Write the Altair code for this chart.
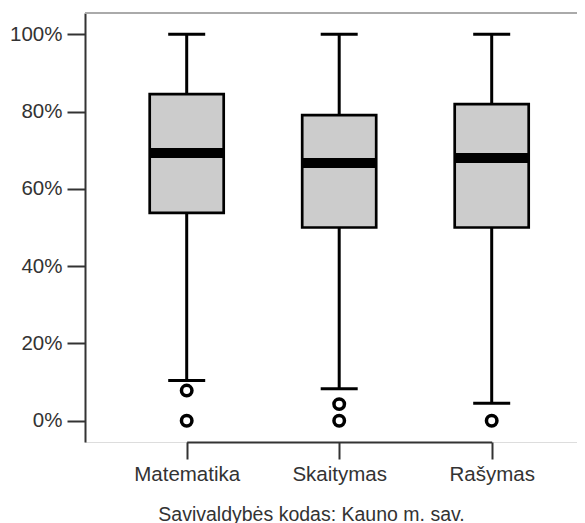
import altair as alt
import pandas as pd

subjects = ["Matematika", "Skaitymas", "Rašymas"]
whisker_low = [0.104, 0.083, 0.045]
q1 = [0.538, 0.500, 0.500]
median = [0.693, 0.667, 0.680]
q3 = [0.845, 0.791, 0.819]
whisker_high = [1.0, 1.0, 1.0]

outlier_subject = ["Matematika", "Matematika", "Skaitymas", "Skaitymas", "Rašymas"]
outlier_value = [0.078, 0.0, 0.043, 0.0, 0.0]

y_ticks = [0, 0.2, 0.4, 0.6, 0.8, 1.0]

stats = pd.DataFrame({
    "subject": subjects,
    "low": whisker_low,
    "q1": q1,
    "median": median,
    "q3": q3,
    "high": whisker_high,
})
outliers = pd.DataFrame({"subject": outlier_subject, "value": outlier_value})

FONT = "Liberation Sans"
TXT = "#333333"
W, H = 492, 429

x_enc = alt.X(
    "subject:N",
    sort=subjects,
    scale=alt.Scale(type="point", range=[101.7, 406.7], padding=0),
    axis=alt.Axis(
        title="Savivaldybės kodas: Kauno m. sav.",
        labelAngle=0,
        labelFont=FONT,
        labelFontSize=20.5,
        labelColor=TXT,
        labelPadding=5,
        tickSize=17,
        tickWidth=2,
        tickColor=TXT,
        domainColor=TXT,
        domainWidth=2,
        titleFont=FONT,
        titleFontSize=19.5,
        titleFontWeight="normal",
        titleColor=TXT,
        titleX=226,
        titleY=78,
        titleAlign="center",
        titleBaseline="alphabetic",
    ),
)

y_scale = alt.Scale(domain=[-0.055, 1.055], nice=False, zero=False)
y_axis = alt.Axis(
    title=None,
    format=".0%",
    values=y_ticks,
    labelFont=FONT,
    labelFontSize=20.5,
    labelColor=TXT,
    labelPadding=5,
    tickSize=18,
    tickWidth=2,
    tickColor=TXT,
    domainColor=TXT,
    domainWidth=2,
    grid=False,
)

base = alt.Chart(stats)

whisker = base.mark_rule(color="black", strokeWidth=3).encode(
    x=x_enc,
    y=alt.Y("low:Q", scale=y_scale, axis=y_axis),
    y2="high:Q",
)

box = base.mark_bar(
    size=74, fill="#cccccc", stroke="black", strokeWidth=2.7
).encode(x=x_enc, y=alt.Y("q1:Q", scale=y_scale, axis=y_axis), y2="q3:Q")

med = base.mark_tick(color="black", size=74, thickness=10, opacity=1).encode(
    x=x_enc, y=alt.Y("median:Q", scale=y_scale, axis=y_axis)
)

cap_low = base.mark_tick(color="black", size=37, thickness=3, opacity=1).encode(
    x=x_enc, y=alt.Y("low:Q", scale=y_scale, axis=y_axis)
)
cap_high = base.mark_tick(color="black", size=37, thickness=3, opacity=1).encode(
    x=x_enc, y=alt.Y("high:Q", scale=y_scale, axis=y_axis)
)

pts = alt.Chart(outliers).mark_point(
    shape="circle", filled=True, fill="white", stroke="black",
    strokeWidth=3.5, size=110, opacity=1
).encode(x=x_enc, y=alt.Y("value:Q", scale=y_scale, axis=y_axis))

top_border = alt.Chart(stats).mark_rule(color="#aaaaaa", strokeWidth=2).encode(
    x=alt.value(0), x2=alt.value(W), y=alt.value(0)
)

chart = alt.layer(top_border, whisker, box, med, cap_low, cap_high, pts).properties(
    width=W,
    height=H,
    autosize=alt.AutoSizeParams(type="none"),
    padding={"left": 77, "top": 5, "right": 0, "bottom": 84},
).configure_view(stroke=None).configure(background="white")

chart.save("out.html", embed_options={"renderer": "svg", "actions": False})
